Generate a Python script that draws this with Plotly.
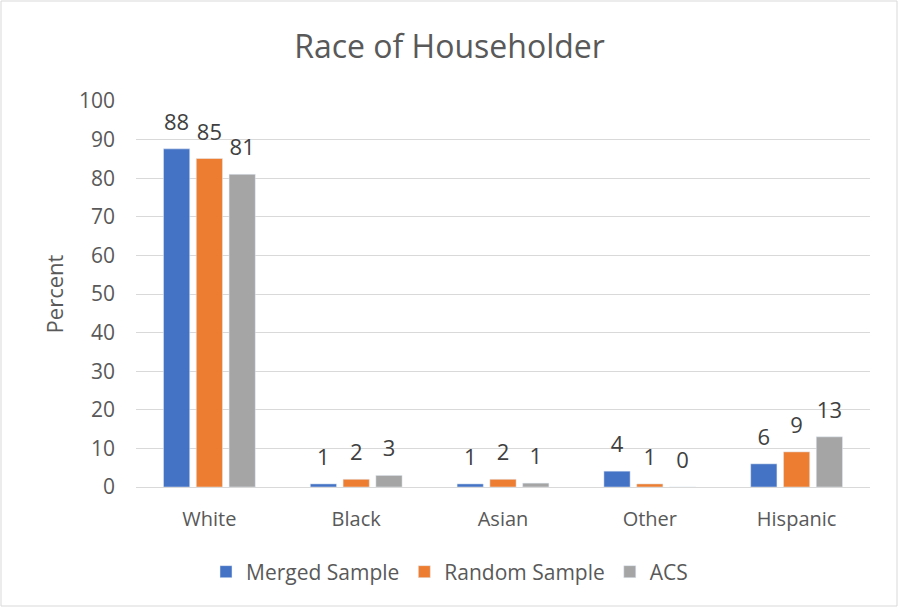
import plotly.graph_objects as go

categories = ["White", "Black", "Asian", "Other", "Hispanic"]
merged = [87.6, 0.8, 0.8, 4.1, 6.0]
random_s = [85.1, 2.0, 2.0, 0.8, 9.1]
acs = [81.0, 3.0, 1.0, 0.0, 13.0]
series_names = ["Merged Sample", "Random Sample", "ACS"]
colors = ["#4472C4", "#ED7D31", "#A5A5A5"]

FONT = "Open Sans, Noto Sans, sans-serif"
GAP = 0.33

fig = go.Figure()
for name, vals, col in zip(series_names, [merged, random_s, acs], colors):
    fig.add_trace(go.Bar(
        x=categories, y=vals, name=name, marker_color=col, hoverinfo="x+y+name",
    ))
for name, vals in zip(series_names, [merged, random_s, acs]):
    fig.add_trace(go.Scatter(
        x=categories, y=vals, name=name, mode="markers+text", showlegend=False,
        marker=dict(size=20, opacity=0), text=[f"{round(v):d}" for v in vals],
        textposition="top center", textfont=dict(size=22, color="#404040", family=FONT),
        cliponaxis=False, hoverinfo="skip",
    ))

W, H = 899, 608
L, R, T, B = 136, 29, 101, 121
pw, ph = W - L - R, H - T - B

fig.update_layout(
    width=W, height=H,
    paper_bgcolor="white", plot_bgcolor="white",
    font=dict(family=FONT, color="#595959"),
    title=dict(text="Race of Householder", x=0.5, xanchor="center", y=1 - 47 / H, yanchor="middle",
               font=dict(size=32, color="#595959")),
    margin=dict(l=L, r=R, t=T, b=B, autoexpand=False),
    barmode="group", bargap=GAP, bargroupgap=0.2,
    scattermode="group", scattergap=GAP,
    legend=dict(orientation="h", x=(W / 2 - L) / pw, xanchor="center",
                y=-(572 - (H - B)) / ph, yanchor="middle",
                font=dict(size=21, color="#595959"), traceorder="normal"),
    xaxis=dict(showline=True, linecolor="#d9d9d9", ticks="", ticklabelstandoff=14,
               tickfont=dict(size=20, color="#595959")),
    yaxis=dict(range=[0, 100], dtick=10, showgrid=True, gridcolor="#d9d9d9", zeroline=False,
               tickfont=dict(size=21, color="#595959"), ticklabelstandoff=20,
               title=dict(text="Percent", font=dict(size=22, color="#595959"), standoff=9)),
    shapes=[dict(type="rect", xref="paper", yref="paper",
                 x0=-(L - 1) / pw, x1=1 + (R - 2) / pw, y0=-(B - 2) / ph, y1=1 + (T - 1) / ph,
                 line=dict(color="#d9d9d9", width=1))],
)
fig.write_html("out.html", config={"displayModeBar": False},
               post_script="document.body.style.margin='0';")
